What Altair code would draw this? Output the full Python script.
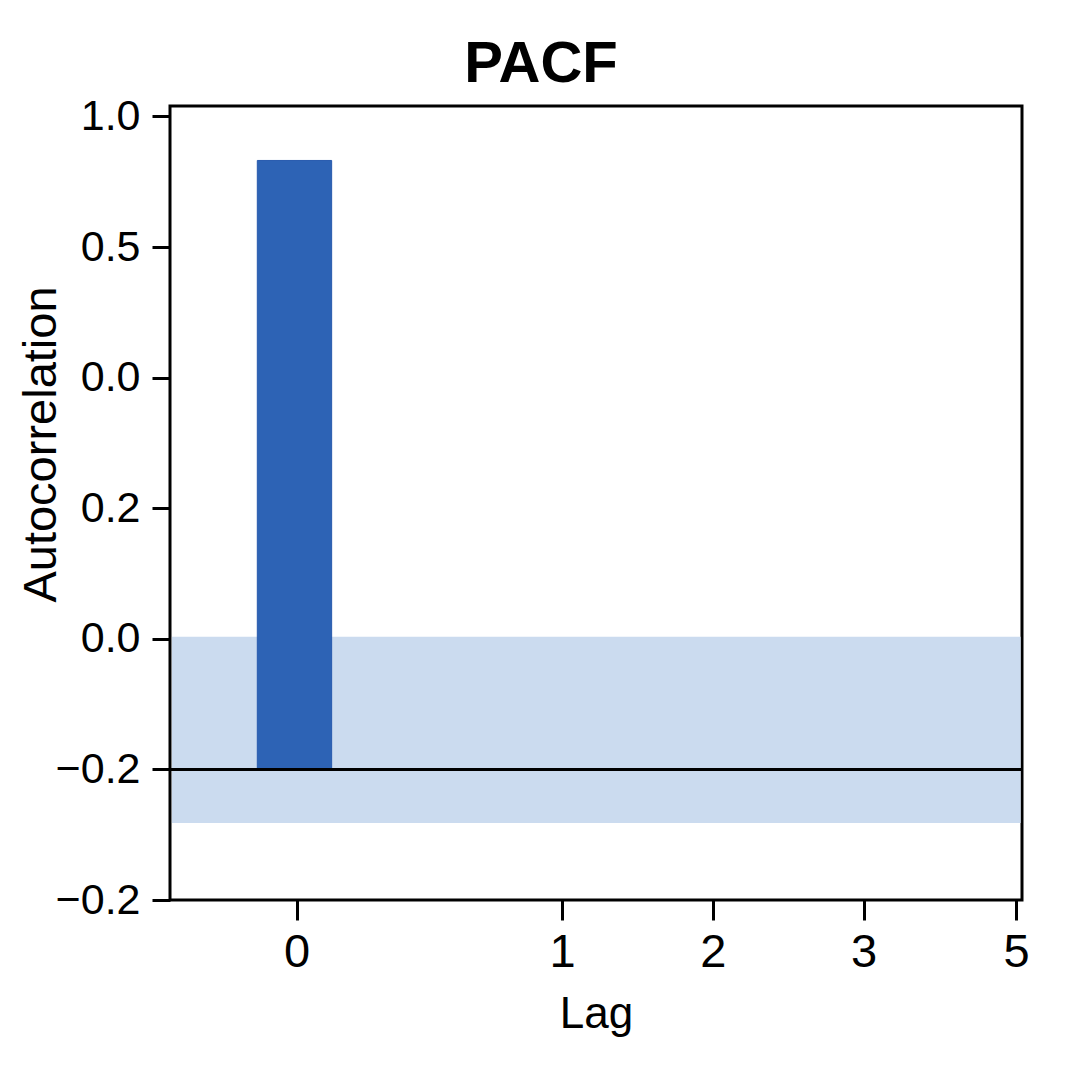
import json
import altair as alt
import pandas as pd

# ---- data (in axis position units) ----
x_tick_labels = ["0", "1", "2", "3", "5"]
x_tick_positions = [0.84, 2.60, 3.60, 4.60, 5.61]
x_domain = [0.0, 5.65]

y_tick_labels = ["\u22120.2", "\u22120.2", "0.0", "0.2", "0.0", "0.5", "1.0"]
y_tick_positions = [0, 1, 2, 3, 4, 5, 6]
y_domain = [0.0, 6.08]

bar_x_start = [0.579]
bar_x_end = [1.072]
bar_bottom = [1.0]
bar_top = [5.663]

band_x_start = [0.013]
band_x_end = [5.641]
band_low = [0.59]
band_high = [2.015]

zero_line = [1.0]

FONT = "Liberation Sans"

bars = pd.DataFrame({"x0": bar_x_start, "x1": bar_x_end, "y0": bar_bottom, "y1": bar_top})
band = pd.DataFrame({"x0": band_x_start, "x1": band_x_end, "y0": band_low, "y1": band_high})
line = pd.DataFrame({"y0": zero_line})

x_scale = alt.Scale(domain=x_domain, nice=False, zero=False)
y_scale = alt.Scale(domain=y_domain, nice=False, zero=False)

x_axis = alt.Axis(
    values=x_tick_positions,
    labelExpr=f"{json.dumps(x_tick_labels)}[indexof({json.dumps(x_tick_positions)}, datum.value)]",
    tickSize=20,
    labelPadding=9,
    labelFontSize=47,
    titleFontSize=44,
    titleBaseline="alphabetic",
    titleY=127,
    labelFlush=False,
)
y_axis = alt.Axis(
    values=y_tick_positions,
    labelExpr=f"{json.dumps(y_tick_labels, ensure_ascii=False)}[datum.value]",
    tickSize=18,
    labelPadding=12,
    labelFontSize=43,
    titleFontSize=47,
    titleBaseline="alphabetic",
    titleX=-115,
    titleY=338,
    labelFlush=False,
)

band_layer = alt.Chart(band).mark_rect(color="#cbdbef").encode(
    x=alt.X("x0:Q", scale=x_scale, axis=x_axis, title="Lag"),
    x2="x1:Q",
    y=alt.Y("y0:Q", scale=y_scale, axis=y_axis, title="Autocorrelation"),
    y2="y1:Q",
)

bar_layer = alt.Chart(bars).mark_rect(color="#2d63b5", stroke="#2759ad", strokeWidth=1).encode(
    x=alt.X("x0:Q", scale=x_scale, axis=x_axis, title="Lag"),
    x2="x1:Q",
    y=alt.Y("y0:Q", scale=y_scale, axis=y_axis, title="Autocorrelation"),
    y2="y1:Q",
)

rule_layer = alt.Chart(line).mark_rule(color="black", strokeWidth=3).encode(
    y=alt.Y("y0:Q", scale=y_scale, axis=y_axis, title="Autocorrelation"),
)

chart = (
    alt.layer(band_layer, bar_layer, rule_layer)
    .properties(
        width=852,
        height=794,
        background="white",
        title=alt.TitleParams(
            text="PACF",
            font=FONT,
            fontSize=58,
            fontWeight="bold",
            color="black",
            anchor="middle",
            dx=-55,
            baseline="alphabetic",
            offset=-45,
        ),
        autosize=alt.AutoSizeParams(type="none"),
        padding={"left": 162, "top": 98, "right": 30, "bottom": 150},
    )
    .configure_view(stroke="black", strokeWidth=3)
    .configure_axis(
        domain=False,
        grid=False,
        tickColor="black",
        tickWidth=3,
        labelColor="black",
        titleColor="black",
        labelFont=FONT,
        titleFont=FONT,
        titleFontWeight="normal",
    )
)

chart.save("out.html", embed_options={"renderer": "svg", "actions": False})
